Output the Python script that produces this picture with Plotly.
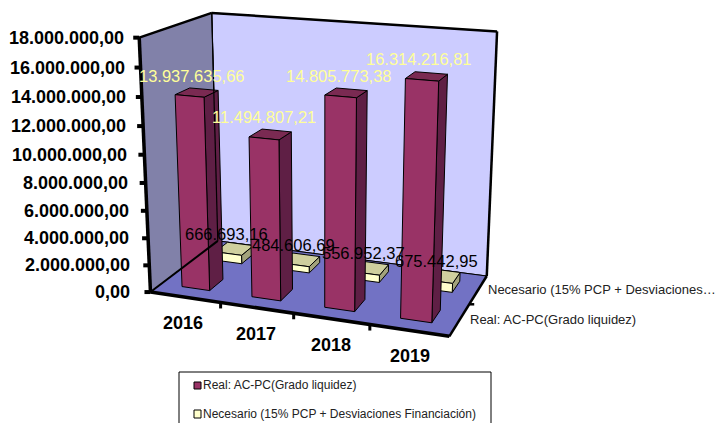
import numpy as np
import plotly.graph_objects as go

# ---- data ----
years = ["2016", "2017", "2018", "2019"]
real_name = "Real: AC-PC(Grado liquidez)"
nec_name = "Necesario (15% PCP + Desviaciones Financiación)"
nec_short = "Necesario (15% PCP + Desviaciones…"
real_values = [13937635.66, 11494807.21, 14805773.38, 16314216.81]
nec_values = [666693.16, 484606.69, 556952.37, 675442.95]
real_labels = ["13.937.635,66", "11.494.807,21", "14.805.773,38", "16.314.216,81"]
nec_labels = ["666.693,16", "484.606,69", "556.952,37", "675.442,95"]
y_ticks = [0, 2e6, 4e6, 6e6, 8e6, 10e6, 12e6, 14e6, 16e6, 18e6]
y_tick_labels = ["0,00", "2.000.000,00", "4.000.000,00", "6.000.000,00", "8.000.000,00",
                 "10.000.000,00", "12.000.000,00", "14.000.000,00", "16.000.000,00", "18.000.000,00"]

# ---- 3D frame: unit cube (u, d, v) -> page pixels by a fitted projective camera ----
cube = [(0, 0, 0), (1, 0, 0), (0, 1, 0), (1, 1, 0), (0, 0, 1), (1, 0, 1), (0, 1, 1), (1, 1, 1),
        (0.25, 0, 0), (0.5, 0, 0), (0.75, 0, 0)]
page = [(150, 291), (451, 337), (221, 244), (487, 275), (141, 36), (461, 66), (210, 13), (495, 29),
        (218, 302), (292, 312), (369, 324)]
A = []
for (a, b, c), (px, py) in zip(cube, page):
    A.append([a, b, c, 1, 0, 0, 0, 0, -px * a, -px * b, -px * c, -px])
    A.append([0, 0, 0, 0, a, b, c, 1, -py * a, -py * b, -py * c, -py])
H = np.linalg.svd(np.array(A, float))[2][-1].reshape(3, 4)
VMAX = y_ticks[-1]


def P(u, d, v):
    p = H @ np.array([u, d, v / VMAX, 1.0])
    return float(p[0] / p[2]), float(p[1] / p[2])


def poly(points):
    xy = [P(*q) for q in points]
    xy.append(xy[0])
    return [q[0] for q in xy], [q[1] for q in xy]


fig = go.Figure()


def face(points_list, fill, name, lw=1.0, legend=False):
    xs, ys = [], []
    for pts in points_list:
        x, y = poly(pts)
        xs += x + [None]
        ys += y + [None]
    fig.add_trace(go.Scatter(x=xs, y=ys, mode="lines", fill="toself", fillcolor=fill,
                             line=dict(color="#000000", width=lw), name=name,
                             showlegend=legend, hoverinfo="skip"))


def edge(a, b, w):
    x, y = poly([a, b])
    fig.add_trace(go.Scatter(x=x[:2], y=y[:2], mode="lines", line=dict(color="#000000", width=w),
                             showlegend=False, hoverinfo="skip"))


# walls and floor
face([[(0, 1, 0), (1, 1, 0), (1, 1, VMAX), (0, 1, VMAX)]], "#CCCCFF", "pared fondo")
face([[(0, 0, 0), (0, 1, 0), (0, 1, VMAX), (0, 0, VMAX)]], "#8181A9", "pared lateral")
face([[(0, 0, 0), (1, 0, 0), (1, 1, 0), (0, 1, 0)]], "#7272C4", "suelo")


def bars(values, d0, d1, front, side, top, name):
    w = 0.4
    fr, si, to = [], [], []
    for i, val in enumerate(values):
        u0 = (i + 0.5 - w / 2) / 4
        u1 = (i + 0.5 + w / 2) / 4
        fr.append([(u0, d0, 0), (u1, d0, 0), (u1, d0, val), (u0, d0, val)])
        si.append([(u1, d0, 0), (u1, d1, 0), (u1, d1, val), (u1, d0, val)])
        to.append([(u0, d0, val), (u1, d0, val), (u1, d1, val), (u0, d1, val)])
    face(si, side, name + " lateral")
    face(to, top, name + " superior")
    face(fr, front, name)


bars(nec_values, 0.65, 0.85, "#FFFFCC", "#A3A37C", "#CFCF9E", nec_name)
bars(real_values, 0.15, 0.35, "#993366", "#5F1F45", "#7A2A52", real_name)

# thick frame
edge((0, 0, 0), (0, 0, VMAX), 3.5)
edge((0, 0, 0), (1, 0, 0), 3.5)
edge((0, 0, VMAX), (0, 1, VMAX), 2.5)
edge((0, 1, VMAX), (1, 1, VMAX), 2.5)
edge((1, 1, VMAX), (1, 1, 0), 2.5)
edge((1, 1, 0), (1, 0, 0), 2.5)
edge((0, 0, 0), (0, 1, 0), 2)
edge((0, 1, 0), (0, 1, VMAX), 1.2)

# value axis ticks and labels
annotations = []
TXT = "Liberation Sans, Arial, sans-serif"
for t, lab in zip(y_ticks, y_tick_labels):
    x0, y0 = P(0, 0, t)
    fig.add_trace(go.Scatter(x=[x0 - 6, x0], y=[y0, y0], mode="lines",
                             line=dict(color="#000000", width=4), showlegend=False, hoverinfo="skip"))
    annotations.append(dict(x=x0 - 18 + 5 * t / VMAX, y=y0, text=lab, xanchor="right", yanchor="middle",
                            showarrow=False, font=dict(family=TXT, size=18, color="#000000", weight="bold")))

# category ticks and labels
for i, lab in enumerate(years):
    if i > 0:
        x0, y0 = P(i / 4, 0, 0)
        fig.add_trace(go.Scatter(x=[x0, x0], y=[y0, y0 + 6], mode="lines",
                                 line=dict(color="#000000", width=3), showlegend=False, hoverinfo="skip"))
    x0, y0 = P((i + 0.5) / 4, 0, 0)
    annotations.append(dict(x=x0 - 2 + i, y=y0 + 26, text=lab, xanchor="center", yanchor="middle", showarrow=False,
                            font=dict(family=TXT, size=18, color="#000000", weight="bold")))

# series axis labels and tick
x0, y0 = P(1, 0.5, 0)
fig.add_trace(go.Scatter(x=[x0, x0 + 5], y=[y0, y0], mode="lines",
                         line=dict(color="#000000", width=2.5), showlegend=False, hoverinfo="skip"))
for d, lab in [(0.25, real_name), (0.75, nec_short)]:
    x0, y0 = P(1, d, 0)
    annotations.append(dict(x=x0 + 8, y=y0, text=lab, xanchor="left", yanchor="middle", showarrow=False,
                            font=dict(family=TXT, size=13, color="#222222")))

# data labels, anchored to the bars
for i, (val, lab) in enumerate(zip(real_values, real_labels)):
    x0, y0 = P((i + 0.5) / 4, 0.25, val)
    annotations.append(dict(x=x0 - 5 - i, y=y0 - 17, text=lab, xanchor="center", yanchor="middle", showarrow=False,
                            font=dict(family=TXT, size=16.5, color="#FFFF99")))
for i, (val, lab) in enumerate(zip(nec_values, nec_labels)):
    x0, y0 = P((i + 0.5) / 4, 0.75, val)
    annotations.append(dict(x=x0 - 8 + i, y=y0 - 15, text=lab, xanchor="center", yanchor="middle", showarrow=False,
                            font=dict(family=TXT, size=16.5, color="#000000")))

# legend box, cut by the bottom of the page as in the reference
shapes = [dict(type="rect", x0=179, x1=491, y0=372, y1=445, line=dict(color="#000000", width=1),
               fillcolor="#FFFFFF", layer="above"),
          dict(type="rect", x0=194, x1=201, y0=382, y1=389, line=dict(color="#000000", width=1),
               fillcolor="#993366", layer="above"),
          dict(type="rect", x0=194, x1=201, y0=410, y1=418, line=dict(color="#000000", width=1),
               fillcolor="#FFFFCC", layer="above")]
for yy, lab in [(385, real_name), (414, nec_name)]:
    annotations.append(dict(x=201, y=yy, text=lab, xanchor="left", yanchor="middle", showarrow=False,
                            font=dict(family=TXT, size=12, color="#222222")))

fig.update_layout(width=718, height=423, margin=dict(l=0, r=0, t=0, b=0), showlegend=False,
                  paper_bgcolor="#FFFFFF", plot_bgcolor="#FFFFFF", annotations=annotations, shapes=shapes,
                  xaxis=dict(range=[0, 718], visible=False, fixedrange=True),
                  yaxis=dict(range=[423, 0], visible=False, fixedrange=True))
fig.write_html("out.html", config=dict(displayModeBar=False),
               post_script="document.body.style.margin='0';document.body.style.overflow='hidden';")
